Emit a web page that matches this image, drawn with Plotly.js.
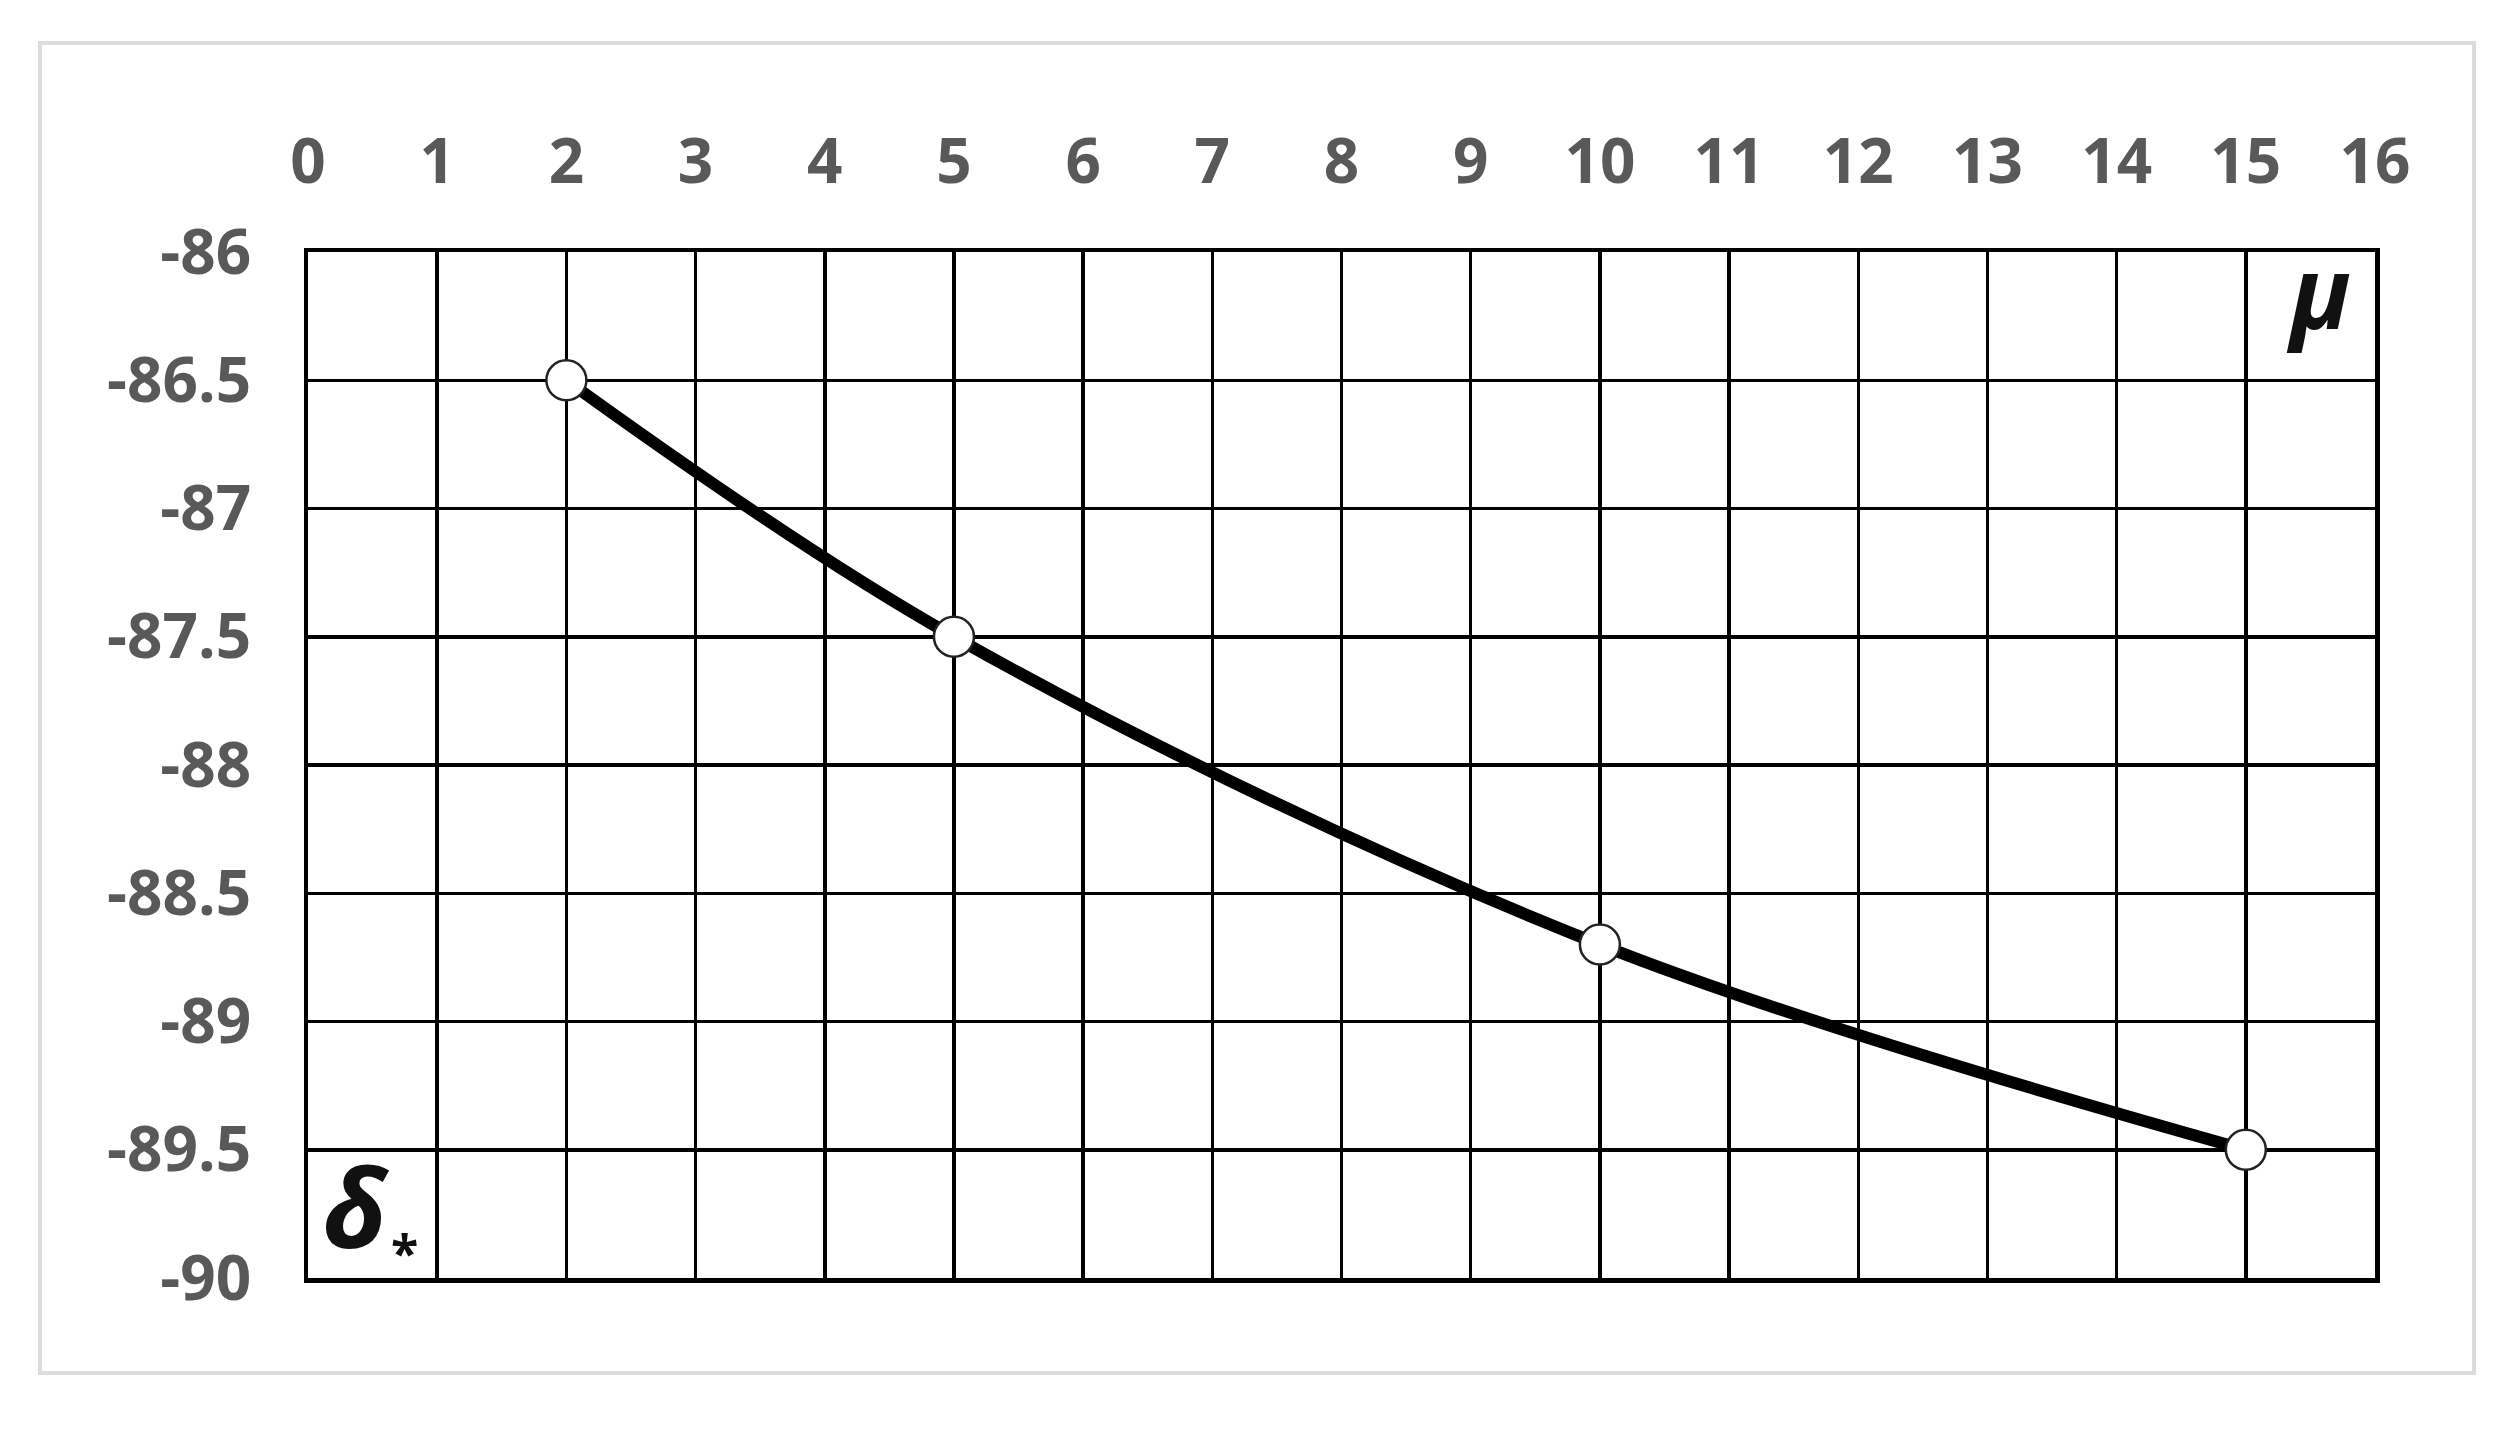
<!DOCTYPE html>
<html>
<head>
<meta charset="utf-8">
<script src="https://cdn.plot.ly/plotly-3.0.1.min.js"></script>
<style>
html,body{margin:0;padding:0;background:#fff;}
#chart{width:2504px;height:1430px;}
</style>
</head>
<body>
<div id="chart"></div>
<script>
// Data
const mu = [2, 5, 10, 15];
const delta = [-86.5, -87.5, -88.7, -89.5];

// Tick labels
const xTickVals = [0,1,2,3,4,5,6,7,8,9,10,11,12,13,14,15,16];
const xTickText = ["0","1","2","3","4","5","6","7","8","9","10","11","12","13","14","15","16"];
const yTickVals = [-86,-86.5,-87,-87.5,-88,-88.5,-89,-89.5,-90];
const yTickText = ["-86","-86.5","-87","-87.5","-88","-88.5","-89","-89.5","-90"];

const W = 2504, H = 1430;
const ml = 308, mr = W - 2375, mt = 252, mb = H - 1278;
const pw = W - ml - mr, ph = H - mt - mb;
const px = v => (v - ml) / pw;
const py = v => (H - mb - v) / ph;

const tickFont = {family: "Open Sans, Liberation Sans, sans-serif", size: 62, color: "#595959", weight: "bold"};

const trace = {
  x: mu, y: delta,
  type: "scatter", mode: "lines+markers",
  line: {color: "#000", width: 12, shape: "spline", smoothing: 1},
  marker: {size: 40, color: "#fff", line: {color: "#222", width: 2.5}},
  cliponaxis: false,
  hoverinfo: "skip"
};

const layout = {
  width: W, height: H,
  margin: {l: ml, r: mr, t: mt, b: mb, pad: 0},
  paper_bgcolor: "#fff", plot_bgcolor: "#fff",
  showlegend: false,
  xaxis: {
    range: [0, 16], side: "top",
    tickmode: "array", tickvals: xTickVals, ticktext: xTickText,
    showgrid: true, gridcolor: "#000", gridwidth: 3.5,
    showline: true, linecolor: "#000", linewidth: 4.5, mirror: true,
    zeroline: false,
    ticks: "outside", ticklen: 40, tickcolor: "rgba(0,0,0,0)",
    tickfont: tickFont
  },
  yaxis: {
    range: [-90, -86],
    tickmode: "array", tickvals: yTickVals, ticktext: yTickText,
    showgrid: true, gridcolor: "#000", gridwidth: 3.5,
    showline: true, linecolor: "#000", linewidth: 4.5, mirror: true,
    zeroline: false,
    ticks: "outside", ticklen: 40, tickcolor: "rgba(0,0,0,0)",
    tickfont: tickFont
  },
  shapes: [{
    type: "rect", xref: "paper", yref: "paper", layer: "below",
    x0: px(40), x1: px(2474), y0: py(1373), y1: py(43),
    line: {color: "#dcdcdc", width: 4}, fillcolor: "rgba(0,0,0,0)"
  }],
  annotations: [
    {text: "<b><i>μ</i></b>", xref: "paper", yref: "paper", x: px(2318), y: py(290),
     xanchor: "center", yanchor: "middle", showarrow: false, borderpad: 0,
     font: {family: "Open Sans, Liberation Sans, sans-serif", size: 100, color: "#111"}},
    {text: "<b><i>δ</i></b>", xref: "paper", yref: "paper", x: px(322), y: py(1205),
     xanchor: "left", yanchor: "middle", showarrow: false, borderpad: 0,
     font: {family: "Open Sans, Liberation Sans, sans-serif", size: 110, color: "#111"}},
    {text: "<b>*</b>", xref: "paper", yref: "paper", x: px(404), y: py(1252),
     xanchor: "center", yanchor: "middle", showarrow: false, borderpad: 0,
     font: {family: "Open Sans, Liberation Sans, sans-serif", size: 50, color: "#111"}}
  ]
};

Plotly.newPlot("chart", [trace], layout, {staticPlot: true, displayModeBar: false});
</script>
</body>
</html>
